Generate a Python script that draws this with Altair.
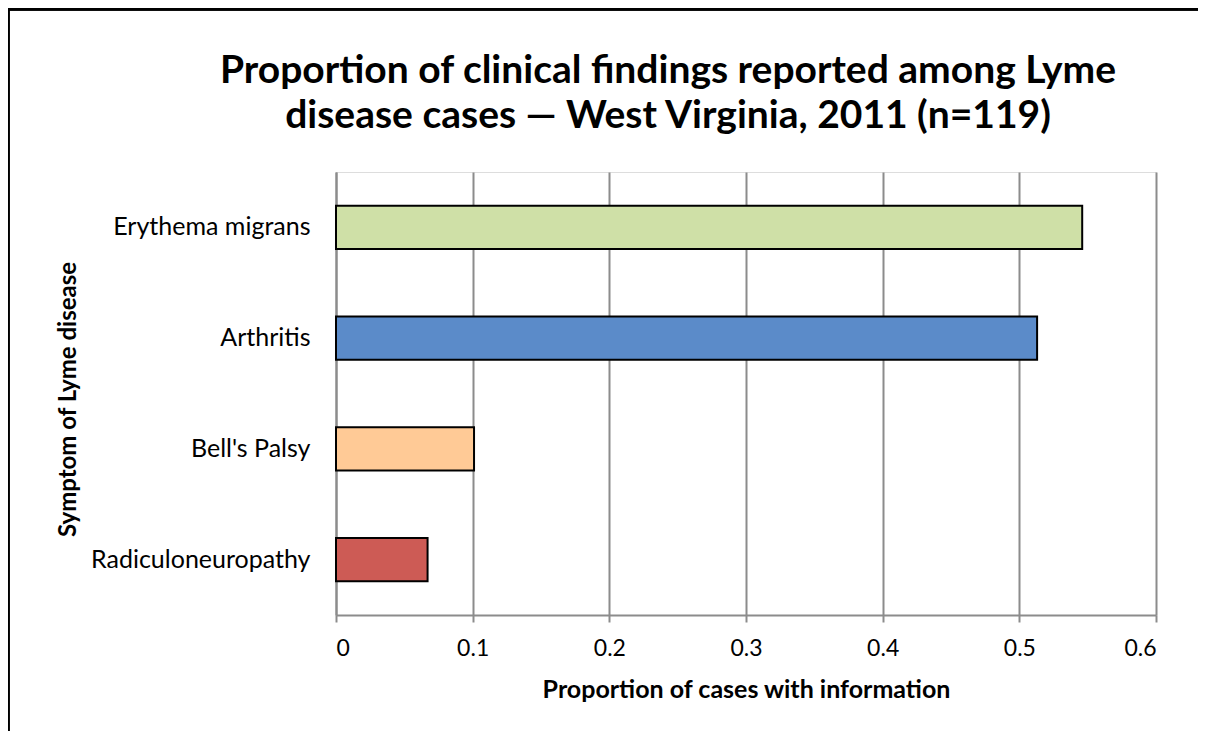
import altair as alt
import pandas as pd

symptoms = ["Erythema migrans", "Arthritis", "Bell's Palsy", "Radiculoneuropathy"]
proportions = [0.546, 0.513, 0.101, 0.067]
colors = ["#CFE0A7", "#5B8BC9", "#FFCA96", "#CD5B55"]
x_ticks = [0, 0.1, 0.2, 0.3, 0.4, 0.5, 0.6]

df = pd.DataFrame({"symptom": symptoms, "proportion": proportions})

FONT = "Lato"
GRID = "#8C8C8C"

bars = alt.Chart(df).mark_bar(stroke="black", strokeWidth=2).encode(
    y=alt.Y(
        "symptom:N",
        sort=symptoms,
        scale=alt.Scale(paddingInner=0.61, paddingOuter=0.305),
        axis=alt.Axis(
            title="Symptom of Lyme disease",
            titleFont=FONT, titleFontSize=24, titleFontWeight="bold", titleColor="black",
            titleAngle=270, titleX=-268, titleY=227, titleAlign="center", titleBaseline="middle",
            labelFont=FONT, labelFontSize=25, labelColor="black", labelPadding=26, labelLimit=0,
            ticks=False, domainColor=GRID, domainWidth=2, grid=False,
        ),
    ),
    x=alt.X(
        "proportion:Q",
        scale=alt.Scale(domain=[0, 0.6], nice=False),
        axis=alt.Axis(
            values=x_ticks, format="~g",
            title="Proportion of cases with information",
            titleFont=FONT, titleFontSize=25, titleFontWeight="bold", titleColor="black",
            titlePadding=17,
            labelFont=FONT, labelFontSize=23, labelColor="black", labelPadding=15,
            tickColor=GRID, tickSize=7, tickWidth=2,
            domainColor=GRID, domainWidth=2,
            grid=True, gridColor=GRID, gridWidth=2,
        ),
    ),
    color=alt.Color("symptom:N", scale=alt.Scale(domain=symptoms, range=colors), legend=None),
)

frame = alt.Chart(df).mark_rect(filled=False, stroke="black", strokeWidth=3).encode(
    x=alt.value(-328), x2=alt.value(1000), y=alt.value(-163), y2=alt.value(800)
)

chart = alt.layer(bars, frame).properties(
    width=820,
    height=443,
    padding={"left": 328, "top": 164, "right": 42, "bottom": 116},
    autosize=alt.AutoSizeParams(type="none"),
    title=alt.TitleParams(
        text=["Proportion of clinical findings reported among Lyme",
              "disease cases \u2014 West Virginia, 2011 (n=119)"],
        font=FONT, fontSize=39, fontWeight="bold", color="black",
        anchor="middle", dx=-78, offset=-128, lineHeight=45,
    ),
).configure_view(stroke=None).configure(background="white")

chart.save("out.html", embed_options={"renderer": "svg", "actions": False})
